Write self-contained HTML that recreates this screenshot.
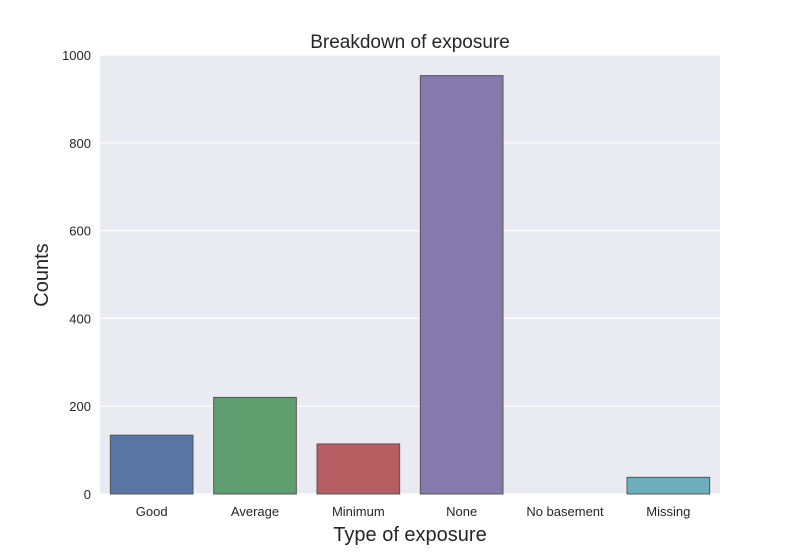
<!DOCTYPE html>
<html><head><meta charset="utf-8"><style>
body{margin:0;background:#fff;}
svg text{font-family:"Liberation Sans",sans-serif;}
</style></head><body>
<svg id="chart" width="800" height="550" xmlns="http://www.w3.org/2000/svg">
<rect x="100" y="55" width="620" height="439" fill="#eaeaf2"/>
<g id="grid"></g>
<g id="bars"></g>
<g id="xlabels"></g>
<g id="ylabels"></g>
<text x="410" y="48" font-size="19" text-anchor="middle" fill="#262626">Breakdown of exposure</text>
<text x="410" y="541" font-size="20" text-anchor="middle" fill="#262626">Type of exposure</text>
<text x="48" y="275" font-size="20" text-anchor="middle" fill="#262626" transform="rotate(-90 48 275)">Counts</text>
</svg>
<script>
const categories=["Good","Average","Minimum","None","No basement","Missing"];
const counts=[134,220,114,953,0,38];
const yTicks=[0,200,400,600,800,1000];
const colors=["#5875a4","#5f9e6e","#b55d60","#857aab","#c9b87c","#6daebd"];
const X0=100,W=620,Y0=494,H=439,YMAX=1000;
const ns="http://www.w3.org/2000/svg";
function y(v){return Y0-v/YMAX*H;}
function xc(i){return X0+W/categories.length*(i+0.5);}
const bw=W/categories.length*0.8;
const grid=document.getElementById('grid'),yl=document.getElementById('ylabels');
yTicks.forEach(t=>{
 const l=document.createElementNS(ns,'line');
 l.setAttribute('x1',X0);l.setAttribute('x2',X0+W);l.setAttribute('y1',y(t));l.setAttribute('y2',y(t));
 l.setAttribute('stroke','#fff');l.setAttribute('stroke-width','1.2');
 
 
 grid.appendChild(l);
 const tx=document.createElementNS(ns,'text');
 tx.setAttribute('x',91);tx.setAttribute('y',y(t)+5);tx.setAttribute('text-anchor','end');tx.setAttribute('font-size','13');tx.setAttribute('fill','#262626');
 tx.textContent=t;
 
 
 yl.appendChild(tx);
});
const bars=document.getElementById('bars'),xl=document.getElementById('xlabels');
categories.forEach((c,i)=>{
 const r=document.createElementNS(ns,'rect');
 r.setAttribute('x',xc(i)-bw/2);r.setAttribute('width',bw);
 r.setAttribute('y',y(counts[i]));r.setAttribute('height',Math.max(0,Y0-y(counts[i])));
 r.setAttribute('fill',colors[i]);r.setAttribute('stroke','#555');r.setAttribute('stroke-width','1');
 
 
 bars.appendChild(r);
 const tx=document.createElementNS(ns,'text');
 tx.setAttribute('x',xc(i));tx.setAttribute('y',516);tx.setAttribute('text-anchor','middle');tx.setAttribute('font-size','13');tx.setAttribute('fill','#262626');
 tx.textContent=c;
 
 
 xl.appendChild(tx);
});
</script>
</body></html>
